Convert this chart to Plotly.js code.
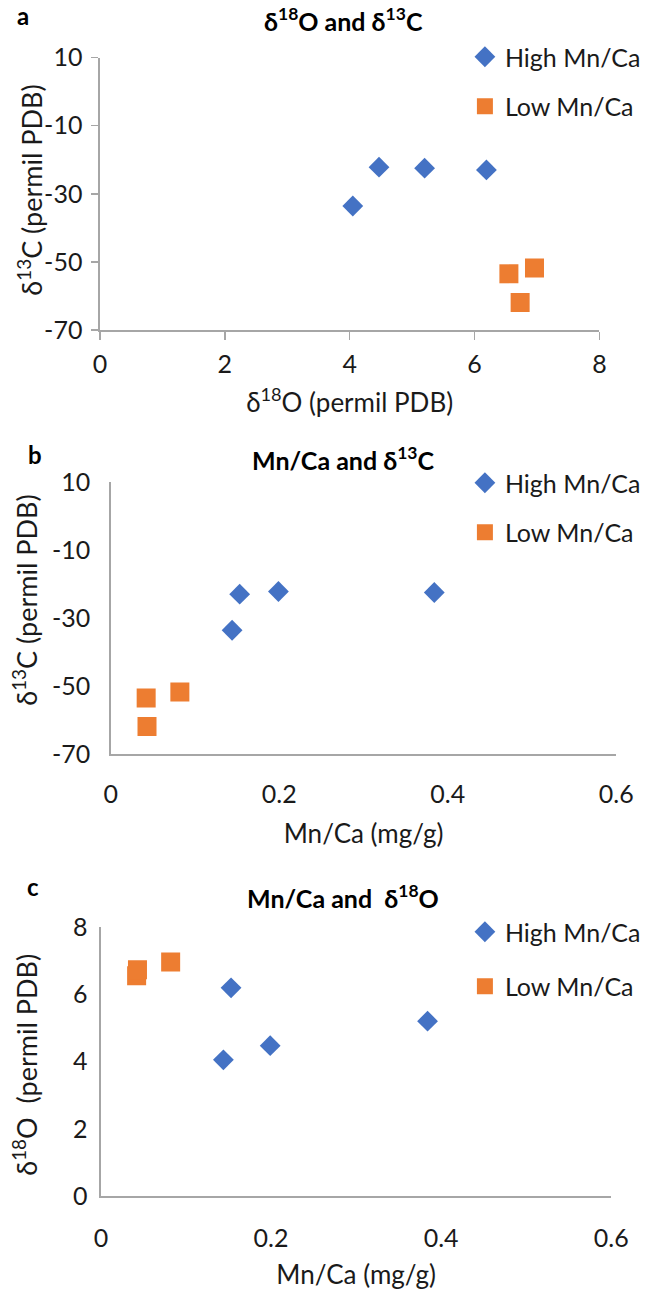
<!DOCTYPE html>
<html>
<head>
<meta charset="utf-8">
<script src="https://cdn.plot.ly/plotly-3.0.1.min.js"></script>
<style>html,body{margin:0;padding:0;background:#fff;}</style>
</head>
<body>
<div id="chart" style="width:646px;height:1290px;"></div>
<script>
// ---- data ----
const seriesNames = ['High Mn/Ca', 'Low Mn/Ca'];
const highD18O = [4.05, 4.47, 5.20, 6.19];
const highD13C = [-33.6, -22.2, -22.5, -23.0];
const highMnCa = [0.144, 0.199, 0.384, 0.153];
const lowD18O = [6.55, 6.96, 6.73];
const lowD13C = [-53.5, -51.8, -61.9];
const lowMnCa = [0.042, 0.082, 0.043];

const panelLetters = ['a', 'b', 'c'];
const panelTitles = ['δ<sup>18</sup>O and δ<sup>13</sup>C', 'Mn/Ca and δ<sup>13</sup>C', 'Mn/Ca and  δ<sup>18</sup>O'];
const xTitles = ['δ<sup>18</sup>O (permil PDB)', 'Mn/Ca (mg/g)', 'Mn/Ca (mg/g)'];
const yTitles = ['δ<sup>13</sup>C (permil PDB)', 'δ<sup>13</sup>C (permil PDB)', 'δ<sup>18</sup>O  (permil PDB)'];
const xTicksA = [0, 2, 4, 6, 8];
const xTicksBC = [0, 0.2, 0.4, 0.6];
const yTicksAB = [-70, -50, -30, -10, 10];
const yTicksC = [0, 2, 4, 6, 8];

// ---- styling ----
const W = 646, H = 1290;
const FONT = 'Lato, "Open Sans", sans-serif';
const BLUE = '#4472C4', ORANGE = '#ED7D31';
const AXIS = '#A6A6A6';
const px = v => v / W;
const py = v => 1 - v / H;

const xData = [[highD18O, lowD18O], [highMnCa, lowMnCa], [highMnCa, lowMnCa]];
const yData = [[highD13C, lowD13C], [highD13C, lowD13C], [highD18O, lowD18O]];
const legendIds = ['legend', 'legend2', 'legend3'];
const axIds = ['', '2', '3'];

const traces = [];
for (let p = 0; p < 3; p++) {
  for (let s = 0; s < 2; s++) {
    traces.push({
      type: 'scatter', mode: 'markers',
      x: xData[p][s], y: yData[p][s],
      name: seriesNames[s],
      xaxis: 'x' + axIds[p], yaxis: 'y' + axIds[p],
      legend: legendIds[p], legendgroup: 'g' + p + s,
      marker: s === 0
        ? {symbol: 'diamond', size: 16, color: BLUE}
        : {symbol: 'square', size: 19, color: ORANGE},
      hoverinfo: 'x+y'
    });
  }
}

// plot boxes in pixels: [x0, x1, yTop, yBottom]
const boxes = [[101, 606, 57.5, 330], [112, 623, 482, 754], [102, 618, 927, 1196]];
const xRanges = [[0, 8], [0, 0.6], [0, 0.6]];
const yRanges = [[-70, 10], [-70, 10], [0, 8]];
const xTv = [xTicksA, xTicksBC, xTicksBC];
const yTv = [yTicksAB, yTicksAB, yTicksC];
const xLabStand = [3, 17, 19];
const yLabStand = [4, 14, 7];
const xTitleStand = [17, 18, 23];

const layout = {
  width: W, height: H,
  margin: {l: 0, r: 0, t: 0, b: 0},
  paper_bgcolor: '#fff', plot_bgcolor: '#fff',
  font: {family: FONT, color: '#1a1a1a'},
  showlegend: true,
  annotations: []
};

for (let p = 0; p < 3; p++) {
  const b = boxes[p];
  const hasTicks = p === 0;
  layout['xaxis' + axIds[p]] = {
    domain: [px(b[0]), px(b[1])],
    anchor: 'y' + axIds[p],
    range: xRanges[p], tickvals: xTv[p], ticktext: xTv[p].map(String),
    showgrid: false, zeroline: false,
    showline: true, linecolor: AXIS, linewidth: 1.5,
    ticks: hasTicks ? 'outside' : '', ticklen: 8, tickwidth: 1.5, tickcolor: AXIS,
    ticklabelstandoff: xLabStand[p],
    tickfont: {size: 25, family: FONT, color: '#1a1a1a'},
    title: {text: xTitles[p], font: {size: 26, family: FONT, color: '#1a1a1a'}, standoff: xTitleStand[p]},
    automargin: false, fixedrange: true
  };
  layout['yaxis' + axIds[p]] = {
    domain: [py(b[3]), py(b[2])],
    anchor: 'x' + axIds[p],
    range: yRanges[p], tickvals: yTv[p], ticktext: yTv[p].map(String),
    showgrid: false, zeroline: false,
    showline: true, linecolor: AXIS, linewidth: 1.5,
    ticks: hasTicks ? 'outside' : '', ticklen: 7, tickwidth: 1.5, tickcolor: AXIS,
    ticklabelstandoff: yLabStand[p],
    tickfont: {size: 25, family: FONT, color: '#1a1a1a'},
    automargin: false, fixedrange: true
  };
  const legTop = [34, 460, 909][p];
  layout[legendIds[p]] = {
    x: px(470), y: py(legTop), xanchor: 'left', yanchor: 'top',
    font: {size: 25, family: FONT, color: '#1a1a1a'},
    traceorder: 'grouped', tracegroupgap: [14, 14, 19][p], itemsizing: 'trace',
    bgcolor: 'rgba(0,0,0,0)', borderwidth: 0
  };
}

const titleY = [19, 458, 896];
const letterY = [15, 455, 886];
const letterX = [23, 35, 33];
const yTitleX = [30, 25, 25];
const yTitleY = [190, 600, 1065];
for (let p = 0; p < 3; p++) {
  layout.annotations.push({
    xref: 'paper', yref: 'paper', x: px(347), y: py(titleY[p]),
    xanchor: 'center', yanchor: 'middle', showarrow: false,
    text: '<b>' + panelTitles[p] + '</b>',
    font: {size: 25, family: FONT, color: '#000'}
  });
  layout.annotations.push({
    xref: 'paper', yref: 'paper', x: px(letterX[p]), y: py(letterY[p]),
    xanchor: 'center', yanchor: 'middle', showarrow: false,
    text: '<b>' + panelLetters[p] + '</b>',
    font: {size: 24, family: FONT, color: '#000'}
  });
  layout.annotations.push({
    xref: 'paper', yref: 'paper', x: px(yTitleX[p]), y: py(yTitleY[p]),
    xanchor: 'center', yanchor: 'middle', showarrow: false, textangle: -90,
    text: yTitles[p],
    font: {size: 27, family: FONT, color: '#1a1a1a'}
  });
}

Plotly.newPlot('chart', traces, layout, {displayModeBar: false, staticPlot: true});
</script>
</body>
</html>
